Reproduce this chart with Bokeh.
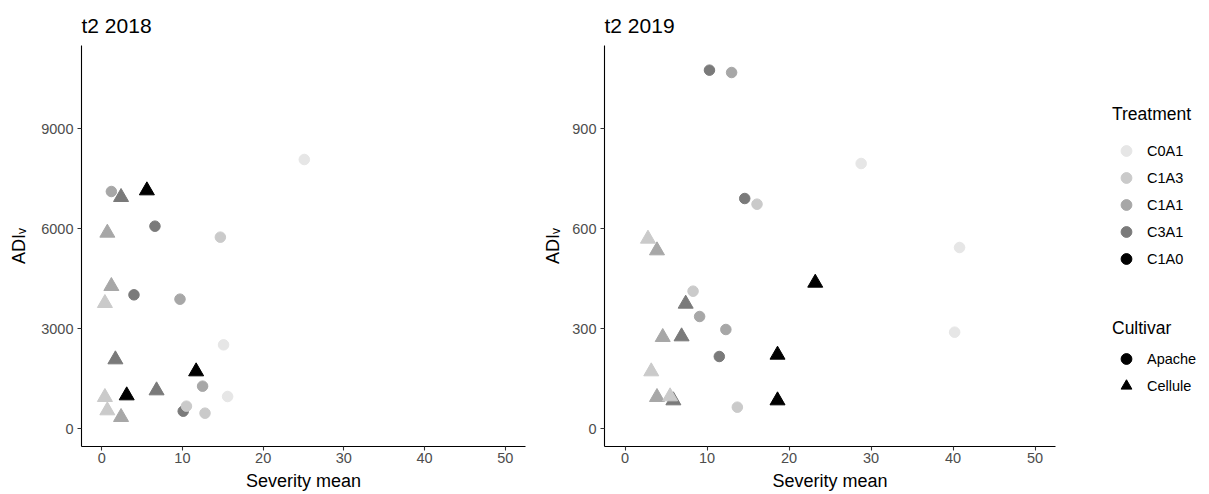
from bokeh.plotting import figure
from bokeh.models import ColumnDataSource, Range1d, FixedTicker, Legend, LegendItem
from bokeh.transform import factor_cmap, factor_mark
from bokeh.layouts import row
from bokeh.embed import file_html
from bokeh.resources import INLINE

FONT = "Liberation Sans"

treatments = ["C0A1", "C1A3", "C1A1", "C3A1", "C1A0"]
treatment_colors = ["#E6E6E6", "#CACACA", "#A7A7A7", "#7A7A7A", "#000000"]
cultivars = ["Apache", "Cellule"]
cultivar_markers = ["circle", "triangle"]

x_ticks = [0, 10, 20, 30, 40, 50]
y_ticks_2018 = [0, 3000, 6000, 9000]
y_ticks_2019 = [0, 300, 600, 900]

# ---- t2 2018 ----
sev_2018 = [5.6, 11.7, 3.1,
            6.6, 4.0, 10.1, 2.4, 1.7, 6.8,
            1.2, 9.7, 12.5, 0.7, 1.2, 2.4,
            14.7, 10.5, 12.8, 0.4, 0.4, 0.7,
            25.1, 15.1, 15.6]
adi_2018 = [7140, 1710, 990,
            6070, 4010, 520, 6940, 2070, 1140,
            7110, 3880, 1270, 5870, 4270, 340,
            5740, 670, 460, 3760, 940, 540,
            8070, 2510, 960]
trt_2018 = ["C1A0"] * 3 + ["C3A1"] * 6 + ["C1A1"] * 6 + ["C1A3"] * 6 + ["C0A1"] * 3
cul_2018 = (["Cellule"] * 3
            + ["Apache"] * 3 + ["Cellule"] * 3
            + ["Apache"] * 3 + ["Cellule"] * 3
            + ["Apache"] * 3 + ["Cellule"] * 3
            + ["Apache"] * 3)

# ---- t2 2019 ----
sev_2019 = [18.6, 18.6, 23.2,
            10.3, 14.6, 11.5, 7.4, 6.9, 5.9,
            13.0, 9.1, 12.3, 3.9, 4.6, 3.9,
            16.1, 8.3, 13.7, 2.8, 3.2, 5.5,
            28.8, 40.8, 40.2]
adi_2019 = [221, 84, 437,
            1075, 690, 216, 374, 276, 84,
            1068, 336, 297, 534, 274, 94,
            673, 412, 64, 569, 171, 96,
            795, 543, 289]
trt_2019 = list(trt_2018)
cul_2019 = list(cul_2018)

FIG_H = 494
TOP = 45
BOTTOM = 48


def make_panel(title, sev, adi, trt, cul, y_ticks, y_range, width,
               border_left, border_right, ylab_standoff):
    src = ColumnDataSource(dict(sev=sev, adi=adi, trt=trt, cul=cul,
                                size=[15 if c == "Cellule" else 10.5 for c in cul]))
    p = figure(width=width, height=FIG_H, output_backend="svg", toolbar_location=None,
               x_range=Range1d(-2.5, 52.5), y_range=Range1d(*y_range),
               min_border_left=border_left, min_border_right=border_right,
               min_border_top=TOP, min_border_bottom=BOTTOM)
    p.scatter("sev", "adi", source=src, size="size",
              marker=factor_mark("cul", cultivar_markers, cultivars),
              fill_color=factor_cmap("trt", treatment_colors, treatments),
              line_color=factor_cmap("trt", treatment_colors, treatments),
              line_width=1)
    p.title.text = title
    p.title.text_font = FONT
    p.title.text_font_size = "21px"
    p.title.text_font_style = "normal"
    p.title.text_color = "#000000"
    p.title.align = "left"
    p.title.standoff = 18
    p.grid.visible = False
    p.outline_line_color = None
    p.background_fill_color = "white"
    p.border_fill_color = "white"

    p.xaxis.ticker = FixedTicker(ticks=x_ticks)
    p.yaxis.ticker = FixedTicker(ticks=y_ticks)
    p.xaxis.axis_label = "Severity mean"
    p.yaxis.axis_label = "ADI\u1d65"
    for ax in (p.xaxis, p.yaxis):
        ax.axis_line_color = "black"
        ax.axis_line_width = 1.1
        ax.major_tick_line_color = "#333333"
        ax.major_tick_line_width = 1.1
        ax.major_tick_in = 0
        ax.major_tick_out = 4
        ax.minor_tick_line_color = None
        ax.major_label_text_font = FONT
        ax.major_label_text_font_size = "14.5px"
        ax.major_label_text_color = "#4D4D4D"
        ax.axis_label_text_font = FONT
        ax.axis_label_text_font_size = "18px"
        ax.axis_label_text_font_style = "normal"
        ax.axis_label_text_color = "#000000"
    p.xaxis.major_label_standoff = 2
    p.xaxis.axis_label_standoff = 5
    p.yaxis.major_label_standoff = 4
    p.yaxis.axis_label_standoff = ylab_standoff
    return p


p1 = make_panel("t2 2018", sev_2018, adi_2018, trt_2018, cul_2018,
                y_ticks_2018, (-540, 11490), 540, 81, 15, 9)
p2 = make_panel("t2 2019", sev_2019, adi_2019, trt_2019, cul_2019,
                y_ticks_2019, (-54, 1149), 540, 64, 25, 6)

# ---- legend panel ----
pl = figure(width=129, height=FIG_H, output_backend="svg", toolbar_location=None,
            x_range=Range1d(0, 1), y_range=Range1d(0, 1),
            x_axis_location=None, y_axis_location=None,
            min_border_left=0, min_border_right=0,
            min_border_top=TOP, min_border_bottom=BOTTOM)
pl.grid.visible = False
pl.outline_line_color = None

nan = float("nan")
trt_items = []
for name, col in zip(treatments, treatment_colors):
    r = pl.scatter(x=[nan], y=[nan], marker="circle", fill_color=col, line_color=col)
    trt_items.append(LegendItem(label=name, renderers=[r]))
cul_items = []
for name, mk in zip(cultivars, cultivar_markers):
    r = pl.scatter(x=[nan], y=[nan], marker=mk, fill_color="black", line_color="black")
    cul_items.append(LegendItem(label=name, renderers=[r]))


def style_legend(lg, standoff):
    lg.title_text_font = FONT
    lg.title_text_font_size = "17.5px"
    lg.title_text_font_style = "normal"
    lg.title_text_color = "#000000"
    lg.title_standoff = standoff
    lg.label_text_font = FONT
    lg.label_text_font_size = "14.5px"
    lg.label_text_color = "#000000"
    lg.glyph_width = 28
    lg.glyph_height = 27
    lg.label_height = 27
    lg.label_standoff = 7
    lg.spacing = 0
    lg.padding = 0
    lg.margin = 0
    lg.border_line_color = None
    lg.background_fill_alpha = 0


leg1 = Legend(items=trt_items, title="Treatment", location=(32, 174))
leg2 = Legend(items=cul_items, title="Cultivar", location=(32, 47))
style_legend(leg1, 12)
style_legend(leg2, 6)
pl.add_layout(leg1, "center")
pl.add_layout(leg2, "center")

layout = row(p1, p2, pl)
open("out.html", "w").write(file_html(layout, INLINE))
